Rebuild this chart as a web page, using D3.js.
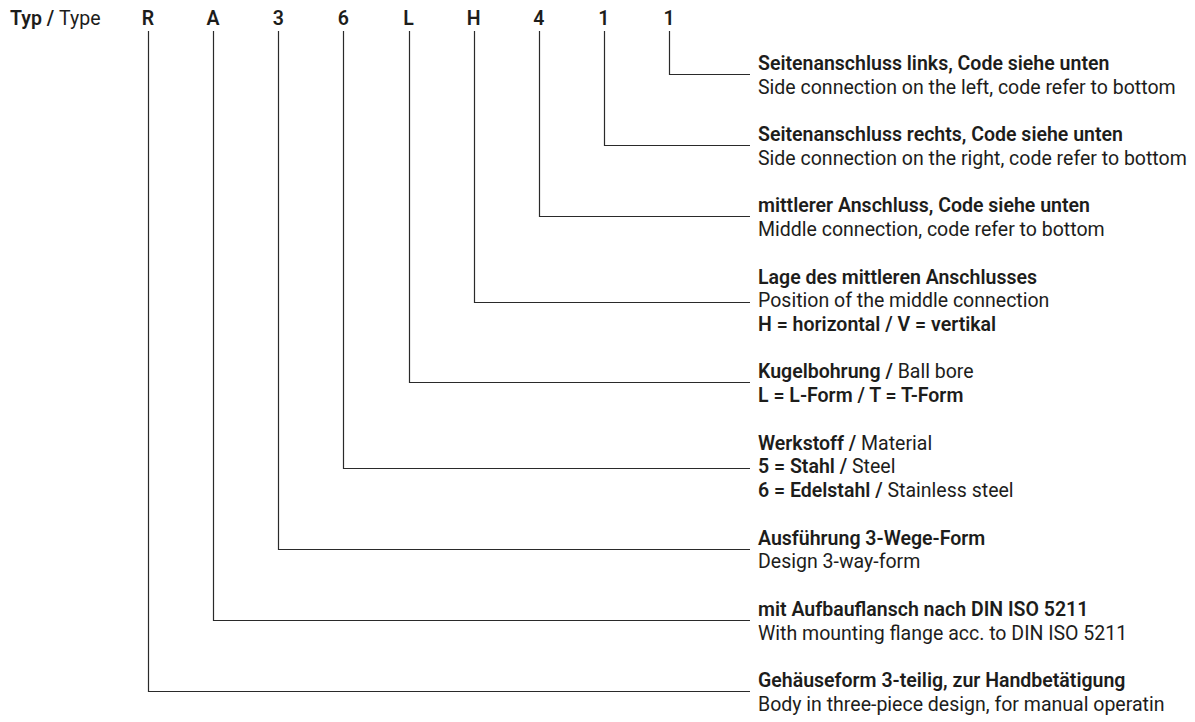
<!DOCTYPE html>
<html>
<head>
<meta charset="utf-8">
<script src="https://cdn.jsdelivr.net/npm/d3@7/dist/d3.min.js"></script>
<style>
  html, body { margin: 0; padding: 0; background: #fff; }
  svg text { font-family: Roboto, "Noto Sans", sans-serif; fill: #1d1d1b; }
  .b { font-weight: 600; }
  .link { fill: none; stroke: #2a2a2a; stroke-width: 1.2; }
</style>
</head>
<body>
<svg id="chart" width="1195" height="722"></svg>
<script>
// type code characters, left to right
const codes = ['R', 'A', '3', '6', 'L', 'H', '4', '1', '1'];
// description blocks, top to bottom (last code first); "bold|regular"
const blocks = [
  ['Seitenanschluss links, Code siehe unten|', '|Side connection on the left, code refer to bottom'],
  ['Seitenanschluss rechts, Code siehe unten|', '|Side connection on the right, code refer to bottom'],
  ['mittlerer Anschluss, Code siehe unten|', '|Middle connection, code refer to bottom'],
  ['Lage des mittleren Anschlusses|', '|Position of the middle connection', 'H = horizontal / V = vertikal|'],
  ['Kugelbohrung /|Ball bore', 'L = L-Form / T = T-Form|'],
  ['Werkstoff /|Material', '5 = Stahl /|Steel', '6 = Edelstahl /|Stainless steel'],
  ['Ausführung 3-Wege-Form|', '|Design 3-way-form'],
  ['mit Aufbauflansch nach DIN ISO 5211|', '|With mounting flange acc. to DIN ISO 5211'],
  ['Gehäuseform 3-teilig, zur Handbetätigung|', '|Body in three-piece design, for manual operatin']
];
const title = ['Typ /', 'Type'];

const svg = d3.select('#chart');
const FS = 20, LH = 23.73, TOP = 70, TEXT_X = 758, LINK_END = 750, CODE_Y = 25, STEM_TOP = 31;
const REF_W = 418; // width of the first english line in the original (condensed face)

const x = d3.scalePoint().domain(d3.range(codes.length)).range([148, 669]);

// work out how much to squeeze the installed face to look condensed
const probe = svg.append('text').attr('font-size', FS).text(blocks[0][1].split('|')[1]);
const SQ = REF_W / probe.node().getComputedTextLength();
probe.remove();

// stack the description blocks: one blank line between blocks
let row = 0;
const layout = blocks.map(lines => {
  const start = row;
  row += lines.length + 1;
  return { lines, start };
});
const y = d3.scaleLinear().domain([0, 1]).range([TOP, TOP + LH]);

// which text line the connector meets
const anchorY = b => b.lines.length === 3 ? y(b.start + 1) - 5 : y(b.start) + 4;

const place = (sel, px, py) => sel.attr('transform', `translate(${px},${py}) scale(${SQ},1)`);

// header
const head = place(svg.append('text').attr('font-size', FS), 10, CODE_Y);
head.append('tspan').attr('class', 'b').text(title[0] + ' ');
head.append('tspan').text(title[1]);

svg.append('g').selectAll('text').data(codes).join('text')
  .attr('class', 'b')
  .attr('transform', (d, i) => `translate(${x(i)},${CODE_Y}) scale(${SQ},1)`)
  .attr('font-size', FS)
  .attr('text-anchor', 'middle')
  .text(d => d);

// connectors
svg.append('g').selectAll('path').data(codes).join('path')
  .attr('class', 'link')
  .attr('d', (d, i) => {
    const b = layout[codes.length - 1 - i];
    const yy = Math.round(anchorY(b)) + 0.5;
    const xx = Math.round(x(i)) + 0.5;
    return `M${xx},${STEM_TOP}V${yy}H${LINK_END}`;
  });

// descriptions
const g = svg.append('g');
layout.forEach(b => {
  b.lines.forEach((ln, k) => {
    const [bold, reg] = ln.split('|');
    const t = place(g.append('text').attr('font-size', FS), TEXT_X, y(b.start + k));
    if (bold) t.append('tspan').attr('class', 'b').text(bold + (reg ? ' ' : ''));
    if (reg) t.append('tspan').text(reg);
  });
});
</script>
</body>
</html>
